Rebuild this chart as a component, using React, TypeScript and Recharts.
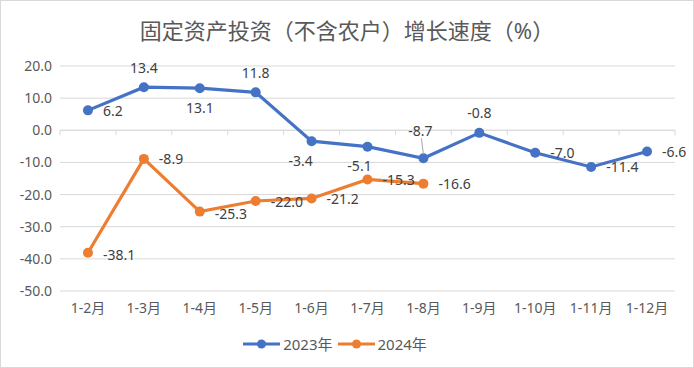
import { LineChart, Line, XAxis, YAxis, CartesianGrid, Legend, ReferenceLine, LabelList } from 'recharts'

const months = ['1-2月', '1-3月', '1-4月', '1-5月', '1-6月', '1-7月', '1-8月', '1-9月', '1-10月', '1-11月', '1-12月']
const growth2023 = [6.2, 13.4, 13.1, 11.8, -3.4, -5.1, -8.7, -0.8, -7.0, -11.4, -6.6]
const growth2024 = [-38.1, -8.9, -25.3, -22.0, -21.2, -15.3, -16.6]
const yTicks = [20, 10, 0, -10, -20, -30, -40, -50]

const BLUE = '#4472C4'
const ORANGE = '#ED7D31'
const FONT = "'Noto Sans', 'Noto Sans CJK SC', sans-serif"

type Place = { pos: 'right' | 'top' | 'bottom'; dx?: number; dy?: number; gap?: number; leader?: boolean }

// where each data label sits (hand-placed in the original, Excel style)
const place2023: Place[] = [
  { pos: 'right' }, { pos: 'top' }, { pos: 'bottom' }, { pos: 'top' },
  { pos: 'bottom', dx: -11 }, { pos: 'bottom', dx: -8 }, { pos: 'top', dx: -3, gap: 28, leader: true },
  { pos: 'top' }, { pos: 'right' }, { pos: 'right' }, { pos: 'right' },
]
const place2024: Place[] = [
  { pos: 'right', dy: 2 }, { pos: 'right' }, { pos: 'right', dy: 2 }, { pos: 'right' },
  { pos: 'right' }, { pos: 'right' }, { pos: 'right' },
]

const data = months.map((m, i) => ({ month: m, y2023: growth2023[i], y2024: growth2024[i] }))

function makeLabel(places: Place[]) {
  return (props: any) => {
    const { x, y, value, index } = props
    if (value == null) return null
    const p = places[index] ?? { pos: 'right' }
    let tx = x
    let ty = y
    let anchor: 'start' | 'middle' = 'middle'
    if (p.pos === 'right') { tx = x + 15; anchor = 'start' }
    else if (p.pos === 'top') ty = y - (p.gap ?? 20)
    else ty = y + (p.gap ?? 19)
    tx += p.dx ?? 0
    ty += p.dy ?? 0
    return (
      <g>
        {p.leader && <line x1={tx + 1} y1={ty + 8} x2={x} y2={y - 4} stroke="#a6a6a6" strokeWidth={1} />}
        <text x={tx} y={ty} textAnchor={anchor} dominantBaseline="central" fontSize={14} fill="#404040" fontFamily={FONT}>
          {Number(value).toFixed(1)}
        </text>
      </g>
    )
  }
}

// category axis crosses at zero, with tick marks between months
const ZeroAxis = (props: any) => {
  const { x1, y1, x2, y2 } = props
  const n = months.length
  const step = (x2 - x1) / n
  return (
    <g>
      <line x1={x1} y1={y1} x2={x2} y2={y2} stroke="#d9d9d9" strokeWidth={1} />
      {Array.from({ length: n + 1 }, (_, i) => (
        <line key={i} x1={x1 + i * step} x2={x1 + i * step} y1={y1} y2={y1 + 5} stroke="#d9d9d9" strokeWidth={1} />
      ))}
    </g>
  )
}

const renderLegend = (props: any) => (
  <div style={{ display: 'flex', justifyContent: 'center', alignItems: 'center', fontSize: 15, color: '#595959', fontFamily: FONT }}>
    {(props.payload ?? []).map((item: any) => (
      <div key={item.value} style={{ display: 'flex', alignItems: 'center', marginRight: 5 }}>
        <svg width={37} height={12} style={{ marginRight: 3 }}>
          <line x1={0} y1={6} x2={37} y2={6} stroke={item.color} strokeWidth={3} />
          <circle cx={18.5} cy={6} r={4.5} fill={item.color} />
        </svg>
        <span>{item.value}</span>
      </div>
    ))}
  </div>
)

export default function App() {
  return (
    <div style={{ position: 'absolute', left: 0, top: 0, width: 694, height: 368, background: '#fff', outline: '1px solid #d9d9d9', outlineOffset: -1, fontFamily: FONT }}>
      <div style={{ position: 'absolute', top: 13, left: 0, width: 694, textAlign: 'center', fontSize: 22, color: '#595959' }}>
        固定资产投资（不含农户）增长速度（%）
      </div>
      <LineChart width={694} height={368} data={data} margin={{ top: 66, right: 19, bottom: 14, left: 0 }}>
        <CartesianGrid vertical={false} stroke="#d9d9d9" />
        <XAxis dataKey="month" scale="band" axisLine={false} tickLine={false} height={42} interval={0}
          tick={{ fontSize: 14, fill: '#595959', fontFamily: FONT }} tickMargin={6} />
        <YAxis domain={[-50, 20]} ticks={yTicks} width={60} axisLine={false} tickLine={false}
          tickFormatter={(v: number) => v.toFixed(1)} tick={{ fontSize: 14, fill: '#595959', fontFamily: FONT }} />
        <ReferenceLine y={0} shape={ZeroAxis} />
        <Legend verticalAlign="bottom" content={renderLegend} />
        <Line type="linear" dataKey="y2023" name="2023年" stroke={BLUE} strokeWidth={3.2}
          dot={{ r: 5, fill: BLUE, stroke: BLUE, strokeWidth: 0 }} activeDot={false} isAnimationActive={false}>
          <LabelList dataKey="y2023" content={makeLabel(place2023)} />
        </Line>
        <Line type="linear" dataKey="y2024" name="2024年" stroke={ORANGE} strokeWidth={3.2}
          dot={{ r: 5, fill: ORANGE, stroke: ORANGE, strokeWidth: 0 }} activeDot={false} isAnimationActive={false}>
          <LabelList dataKey="y2024" content={makeLabel(place2024)} />
        </Line>
      </LineChart>
    </div>
  )
}
